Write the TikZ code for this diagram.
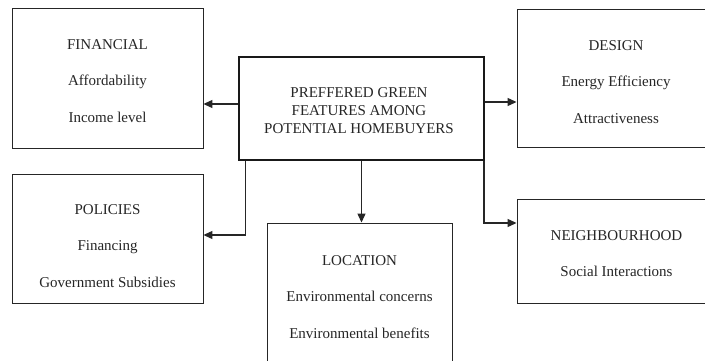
\documentclass[tikz,border=0pt]{standalone}
\usepackage{fontspec}
\setmainfont{Liberation Serif}
\usetikzlibrary{arrows.meta}
\begin{document}
\begin{tikzpicture}[x=1pt,y=-1pt,
  box/.style={draw=black!85, line width=0.9pt, rectangle, inner sep=0pt},
  mainbox/.style={draw=black!90, line width=2.6pt, rectangle, inner sep=0pt},
  txt/.style={text=black!85, align=center, font=\fontsize{15}{36.5}\selectfont, inner sep=0pt},
  maintxt/.style={text=black!85, align=center, font=\fontsize{15}{18}\selectfont, inner sep=0pt},
  arr/.style={draw=black!85, line width=1.2pt, -{Triangle[length=9pt,width=8pt]}}]
\clip (0,0) rectangle (705,361);
\fill[white] (0,0) rectangle (705,361);
% boxes
\node[box, minimum width=191pt, minimum height=140pt] (fin) at (107.5,78) {};
\node[mainbox, minimum width=245pt, minimum height=103pt] (c) at (361.5,108.5) {};
\node[box, minimum width=198pt, minimum height=138pt] (des) at (616,78) {};
\node[box, minimum width=191pt, minimum height=129pt] (pol) at (107.5,238.5) {};
\node[box, minimum width=185pt, minimum height=150pt] (loc) at (359.5,298) {};
\node[box, minimum width=198pt, minimum height=104pt] (nei) at (616,251) {};
% texts
\node[txt] (fint) at (107.5,81) {FINANCIAL\\Affordability\\Income level};
\node[maintxt] (ct) at (359,111) {PREFFERED GREEN\\FEATURES AMONG\\POTENTIAL HOMEBUYERS};
\node[txt] (dest) at (616,82) {DESIGN\\Energy Efficiency\\Attractiveness};
\node[txt] (polt) at (107.5,246) {POLICIES\\Financing\\Government Subsidies};
\node[txt] (loct) at (359.5,297) {LOCATION\\Environmental concerns\\Environmental benefits};
\node[txt] (neit) at (616.5,253.5) {NEIGHBOURHOOD\\Social Interactions};
% connectors
\draw[arr] ([yshift=4.5pt]c.west) -- ([yshift=4.5pt]c.west -| fin.east);
\draw[arr] ([yshift=6.5pt]c.east) -- ([yshift=6.5pt]c.east -| des.west);
\draw[arr] ([xshift=8pt]c.south west) |- ([yshift=3.5pt]pol.east);
\draw[arr] (c.south) -- (c.south |- loc.north);
\draw[arr] ([xshift=-1.3pt]c.south east) |- ([yshift=28pt]nei.west);
\end{tikzpicture}
\end{document}
